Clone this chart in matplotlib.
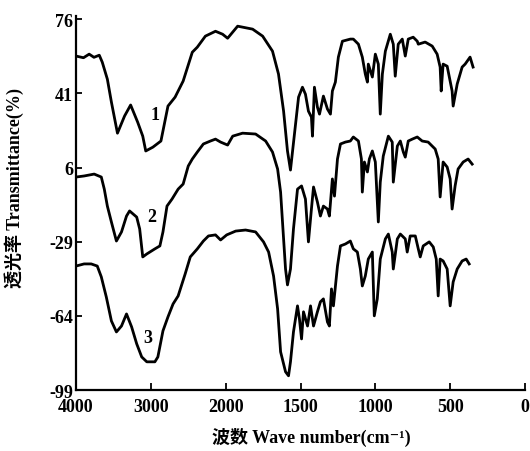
import numpy as np
import matplotlib.pyplot as plt

# IR spectra, wave number (cm-1) and transmittance (%)
wn1 = [4000, 3900, 3824, 3760, 3689, 3649, 3581, 3527, 3446, 3351, 3270, 3176, 3108, 3068, 2973, 2865,
       2771, 2676, 2568, 2446, 2379, 2271, 2136, 2041, 1987, 1920, 1820, 1753, 1687, 1647, 1613, 1587,
       1567, 1533, 1513, 1487, 1467, 1447, 1427, 1420, 1407, 1387, 1373, 1347, 1320, 1300, 1287, 1267,
       1247, 1220, 1167, 1147, 1113, 1087, 1067, 1053, 1047, 1020, 1000, 980, 967, 953, 933, 900, 880,
       867, 847, 820, 800, 780, 747, 720, 713, 667, 620, 587, 567, 560, 547, 520, 487, 480, 453, 420,
       400, 367, 347]
tr1 = [58.6, 57.8, 59.5, 58.0, 59.0, 55.7, 47.7, 36.9, 22.2, 30.3, 35.5, 27.4, 20.8, 13.8, 15.6, 18.5,
       35.0, 39.2, 46.8, 60.4, 62.8, 68.0, 70.3, 68.9, 67.0, 72.7, 71.3, 68.0, 60.9, 50.1, 32.6, 13.8,
       4.8, 26.5, 39.2, 43.9, 40.6, 32.6, 29.8, 20.8, 43.9, 34.5, 31.2, 39.7, 33.6, 31.2, 42.1, 46.3,
       58.1, 65.6, 66.6, 66.6, 64.2, 58.1, 50.1, 46.3, 54.8, 48.7, 59.5, 54.8, 31.2, 50.1, 60.9, 68.9,
       64.2, 49.1, 64.2, 66.6, 58.6, 66.6, 67.5, 65.6, 64.2, 65.2, 63.3, 59.5, 53.4, 42.1, 54.8, 53.8,
       42.1, 35.0, 45.4, 53.4, 54.8, 58.1, 53.4]

wn2 = [4000, 3892, 3757, 3662, 3622, 3581, 3527, 3460, 3392, 3325, 3284, 3189, 3149, 3108, 3054, 2946,
       2879, 2838, 2784, 2717, 2635, 2568, 2500, 2446, 2379, 2298, 2203, 2136, 2068, 1987, 1953, 1887,
       1800, 1733, 1687, 1653, 1633, 1613, 1600, 1587, 1567, 1547, 1520, 1493, 1467, 1447, 1427, 1413,
       1387, 1367, 1347, 1320, 1307, 1287, 1273, 1253, 1233, 1200, 1167, 1147, 1113, 1093, 1087, 1073,
       1053, 1040, 1020, 1000, 980, 967, 947, 913, 887, 880, 853, 833, 813, 800, 780, 753, 720, 687,
       647, 600, 580, 567, 547, 520, 500, 487, 467, 447, 413, 380, 353]
tr2 = [1.5, 2.0, 2.9, 1.5, -4.2, -12.2, -19.7, -28.7, -24.4, -16.9, -14.5, -17.4, -23.0, -36.2, -34.8, -32.4,
       -31.0, -24.4, -12.2, -8.9, -4.2, -1.8, 6.7, 10.0, 13.3, 17.1, 18.5, 19.4, 18.0, 16.6, 20.8, 22.2,
       21.8, 18.5, 13.3, 5.3, -5.6, -27.7, -41.9, -49.4, -41.9, -23.0, -4.2, -2.7, -8.9, -29.1, -13.6, -3.2,
       -10.3, -16.9, -12.2, -13.6, -16.9, 0.6, -7.5, 10.0, 17.1, 18.0, 18.5, 20.4, 18.5, 10.0, -5.6, 8.6,
       3.9, 10.0, 13.8, 8.6, -19.7, -0.9, 11.4, 20.8, 18.0, -0.9, 16.1, 18.5, 13.3, 10.9, 18.5, 19.4, 20.4,
       18.5, 18.0, 14.7, 10.0, -7.9, 8.6, 6.2, 0.6, -13.6, -2.7, 5.3, 8.6, 10.0, 7.6]

wn3 = [4000, 3892, 3797, 3716, 3662, 3595, 3527, 3460, 3392, 3325, 3257, 3189, 3122, 3054, 2946, 2906,
       2838, 2771, 2703, 2635, 2541, 2473, 2379, 2298, 2230, 2136, 2068, 1993, 1933, 1867, 1800, 1747,
       1713, 1680, 1653, 1633, 1600, 1580, 1567, 1547, 1520, 1507, 1493, 1480, 1453, 1433, 1413, 1387,
       1367, 1347, 1320, 1307, 1293, 1280, 1253, 1233, 1200, 1167, 1147, 1120, 1100, 1087, 1067, 1047,
       1020, 1007, 987, 967, 933, 913, 887, 880, 853, 833, 800, 787, 767, 733, 713, 700, 680, 640, 613,
       593, 580, 567, 547, 520, 500, 480, 453, 420, 393, 373]
tr3 = [-40.5, -39.5, -39.5, -40.5, -45.6, -55.1, -66.4, -71.6, -68.8, -63.1, -69.2, -77.2, -83.4, -85.7,
       -85.7, -83.4, -71.1, -64.5, -58.4, -54.6, -44.2, -36.2, -32.4, -28.7, -26.3, -25.8, -28.2, -25.8,
       -24.0, -23.5, -24.4, -29.1, -33.9, -45.2, -60.7, -81.0, -90.4, -92.3, -85.7, -71.6, -59.3, -65.5,
       -74.9, -62.1, -68.8, -59.3, -68.8, -62.1, -57.4, -56.0, -66.9, -68.8, -51.3, -59.3, -40.5, -31.0,
       -30.1, -28.7, -32.4, -33.9, -41.9, -49.9, -45.2, -37.2, -33.9, -64.0, -56.0, -37.2, -27.7, -25.4,
       -33.9, -41.9, -27.7, -25.4, -27.7, -33.9, -26.3, -26.3, -32.4, -36.2, -31.0, -29.1, -31.5, -37.2,
       -54.6, -37.2, -38.1, -41.9, -59.3, -48.0, -41.9, -38.1, -37.2, -39.5]

curve_names = ['1', '2', '3']
label_pos = [(2946, 31), (2987, -17), (3041, -74)]

x_ticks = [4000, 3000, 2000, 1500, 1000, 500, 0]
y_ticks = [76, 41, 6, -29, -64, -99]

plt.rcParams['font.family'] = ['Liberation Serif', 'Noto Sans CJK SC', 'DejaVu Serif']
plt.rcParams['font.weight'] = 'bold'


# IR charts change scale at 2000 cm-1: the part above is squeezed by two
def fwd(w):
    w = np.asarray(w, dtype=float)
    return np.where(w > 2000, 2000 + (w - 2000) / 2, w)


def inv(u):
    u = np.asarray(u, dtype=float)
    return np.where(u > 2000, 2000 + (u - 2000) * 2, u)


fig = plt.figure(figsize=(5.3, 4.52), dpi=100)
ax = fig.add_axes([76 / 530, 61 / 452, 449 / 530, 374 / 452])

for wn, tr in [(wn1, tr1), (wn2, tr2), (wn3, tr3)]:
    ax.plot(wn, tr, color='black', linewidth=2.0, solid_joinstyle='round')

for name, (xp, yp) in zip(curve_names, label_pos):
    ax.text(xp, yp, name, fontsize=13, ha='center', va='center')

ax.set_xscale('function', functions=(fwd, inv))
ax.set_xlim(4000, 0)
ax.set_ylim(-99, 77.5)
ax.set_xticks(x_ticks)
ax.set_xticklabels([str(t) for t in x_ticks])
ax.set_yticks(y_ticks)
ax.set_yticklabels([str(t) for t in y_ticks])
ax.minorticks_off()

ax.spines['top'].set_visible(False)
ax.spines['right'].set_visible(False)
ax.spines['left'].set_linewidth(1.6)
ax.spines['bottom'].set_linewidth(1.6)
ax.tick_params(axis='y', direction='in', length=4, width=1.3, pad=2, labelsize=13)
ax.tick_params(axis='x', direction='in', length=5, width=1.3, pad=6, labelsize=13)

fig.text(14 / 530, 1 - 188 / 452, '透光率 Transmittance(%)', rotation=90,
         ha='center', va='center', fontsize=13, fontweight='bold')
fig.text(311 / 530, 1 - 437 / 452, '波数 Wave number(cm\u207b\u00b9)',
         ha='center', va='center', fontsize=13, fontweight='bold')

fig.savefig('out.png', dpi=100)
